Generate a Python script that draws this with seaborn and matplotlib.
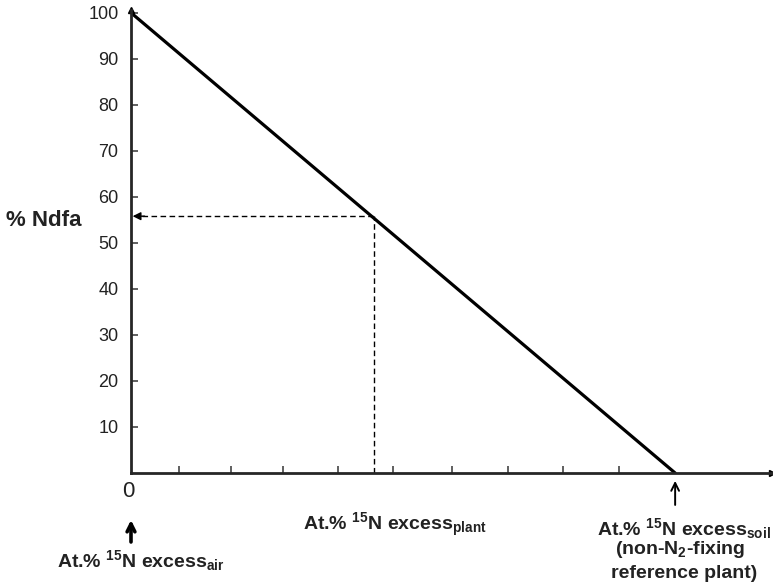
import seaborn as sns
import matplotlib.pyplot as plt
import pandas as pd

# data
excess = [0, 10]          # At.% 15N excess (air -> soil reference plant)
ndfa = [100, 0]           # % Ndfa
plant_excess = 4.46
plant_ndfa = 55.8
x_ticks = [0.88, 1.83, 2.79, 3.80, 4.81, 5.89, 6.92, 7.93, 8.96]
y_ticks = [10, 20, 30, 40, 50, 60, 70, 80, 90, 100]

df = pd.DataFrame({"excess": excess, "ndfa": ndfa})

sns.set_style("ticks")
plt.rcParams["font.family"] = ["Liberation Sans", "DejaVu Sans"]
plt.rcParams["mathtext.fontset"] = "custom"
plt.rcParams["mathtext.rm"] = "Liberation Sans"
plt.rcParams["mathtext.bf"] = "Liberation Sans:bold"

fig = plt.figure(figsize=(7.73, 5.87), dpi=100)
ax = fig.add_axes([131 / 773, 114 / 587, 641 / 773, 463 / 587])

sns.lineplot(data=df, x="excess", y="ndfa", color="black", lw=2.3, ax=ax)

# dashed guide lines to the plant value
ax.plot([plant_excess, plant_excess], [0, plant_ndfa], ls=(0, (4, 2.5)), color="black", lw=1)
ax.plot([0.2, plant_excess], [plant_ndfa, plant_ndfa], ls=(0, (4, 2.5)), color="black", lw=1)
ax.annotate("", xy=(0.03, plant_ndfa), xytext=(0.25, plant_ndfa),
            arrowprops=dict(arrowstyle="-|>", color="black", lw=1, mutation_scale=12,
                            shrinkA=0, shrinkB=0))

ax.set_xlim(0, 11.78)
ax.set_ylim(0, 100.6)
sns.despine(ax=ax)
for s in ["left", "bottom"]:
    ax.spines[s].set_linewidth(2)
# axis arrowheads
ax.plot(1, 0, ">k", ms=5, transform=ax.transAxes, clip_on=False)
ax.plot(0, 1, "^k", ms=4, transform=ax.transAxes, clip_on=False)

ax.set_xticks(x_ticks)
ax.set_xticklabels([])
ax.set_yticks(y_ticks)
ax.set_yticklabels([str(v) for v in y_ticks], fontsize=13, color="#222222")
ax.tick_params(direction="in", length=5, width=1.2, color="#444444")
ax.tick_params(axis="y", pad=9)
ax.set_xlabel("")
ax.set_ylabel("")

fig.text(44 / 773, 1 - 220 / 587, "% Ndfa", fontsize=16, fontweight="bold",
         ha="center", va="center", color="#222222")

tr = ax.get_xaxis_transform()
ax.text(-0.055, -0.041, "0", fontsize=16, ha="center", va="center", transform=tr,
        color="#222222")


def lab(sub):
    return r"At.% $\mathbf{^{15}}$N excess$\mathbf{_{" + sub + "}}$"


txt = dict(fontsize=14, fontweight="bold", ha="center", va="center",
           transform=tr, color="#222222")
ax.text(4.85, -0.112, lab("plant"), **txt)
ax.text(0.18, -0.190, lab("air"), **txt)
ax.text(10.17, -0.119, lab("soil"), **txt)
ax.text(10.09, -0.166, r"(non-N$\mathbf{_2}$-fixing", **txt)
ax.text(10.17, -0.216, "reference plant)", **txt)

ax.annotate("", xy=(0, -0.1015), xytext=(0, -0.149), xycoords=tr, textcoords=tr,
            arrowprops=dict(arrowstyle="->", color="black", lw=2.6, mutation_scale=14,
                            shrinkA=0, shrinkB=0))
ax.annotate("", xy=(10, -0.017), xytext=(10, -0.069), xycoords=tr, textcoords=tr,
            arrowprops=dict(arrowstyle="->", color="black", lw=1.4, mutation_scale=14,
                            shrinkA=0, shrinkB=0))

plt.savefig("out.png", dpi=100)
